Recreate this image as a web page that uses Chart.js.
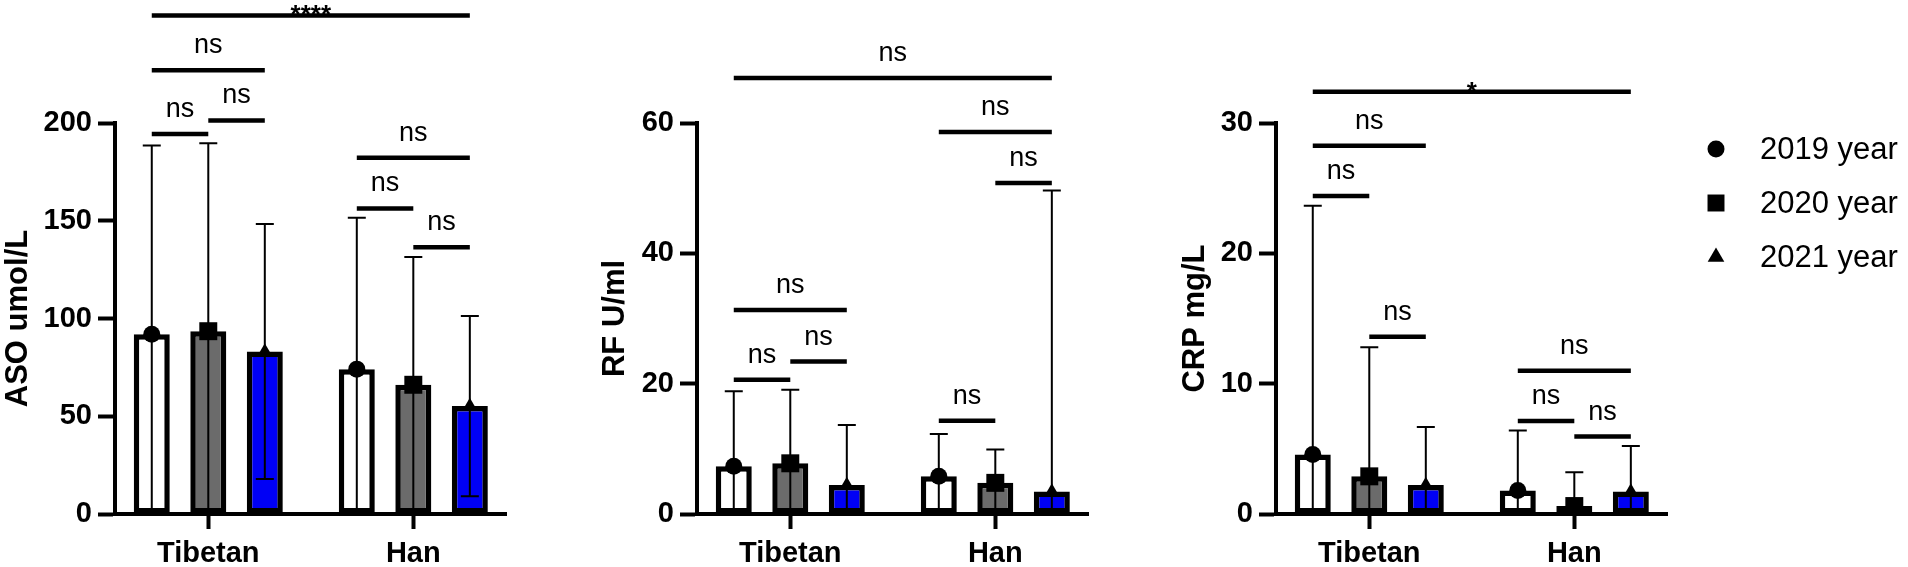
<!DOCTYPE html>
<html>
<head>
<meta charset="utf-8">
<script src="https://cdn.jsdelivr.net/npm/chart.js@4.4.1/dist/chart.umd.min.js"></script>
<style>
  html, body { margin: 0; padding: 0; background: #fff; }
  body { width: 1908px; height: 567px; position: relative; overflow: hidden; }
  .panel { position: absolute; top: 0; height: 567px; }
</style>
</head>
<body>
<div class="panel" style="left:0;width:560px"><canvas id="asoChart"></canvas></div>
<div class="panel" style="left:560px;width:580px"><canvas id="rfChart"></canvas></div>
<div class="panel" style="left:1140px;width:768px"><canvas id="crpChart"></canvas></div>

<script>
const groups = ['Tibetan', 'Han'];
const years = ['2019 year', '2020 year', '2021 year'];
const yearShapes = ['circle', 'rect', 'triangle'];
const barFills = ['#ffffff', '#6b6b6b', '#0000f5'];

// rows = 2019, 2020, 2021 ; columns = Tibetan, Han
const asoMeans = [[92.0, 74.1], [93.5, 66.1], [83.1, 55.2]];
const asoSDs   = [[96.5, 77.4], [96.1, 65.4], [65.2, 46.1]];
const rfMeans  = [[7.33, 5.78], [7.78, 4.78], [4.44, 3.44]];
const rfSDs    = [[11.5, 6.5], [11.3, 5.1], [9.2, 46.2]];
const crpMeans = [[4.56, 1.81], [2.89, 0.61], [2.22, 1.72]];
const crpSDs   = [[19.1, 4.6], [9.9, 2.6], [4.45, 3.5]];

// significance lines: [from bar, to bar, height, label]; bar = group * 3 + year
const asoBrackets = [[0, 5, 255, '****'], [0, 2, 227, 'ns'], [0, 1, 194.4, 'ns'], [1, 2, 201.3, 'ns'],
                     [3, 5, 182.2, 'ns'], [3, 4, 156.3, 'ns'], [4, 5, 136.5, 'ns']];
const rfBrackets  = [[0, 5, 66.9, 'ns'], [0, 2, 31.3, 'ns'], [0, 1, 20.6, 'ns'], [1, 2, 23.4, 'ns'],
                     [3, 5, 58.6, 'ns'], [4, 5, 50.8, 'ns'], [3, 4, 14.3, 'ns']];
const crpBrackets = [[0, 5, 32.4, '*'], [0, 2, 28.25, 'ns'], [0, 1, 24.4, 'ns'], [1, 2, 13.6, 'ns'],
                     [3, 5, 11.0, 'ns'], [3, 4, 7.14, 'ns'], [4, 5, 5.94, 'ns']];

const FONT = '"Liberation Sans", Arial, sans-serif';
Chart.defaults.font.family = FONT;
Chart.defaults.color = '#000';

const markerRadius = [8.5, 12.7, 8.4];

// error bars (mean +/- SD, cut at 0), year markers and significance lines
function marksPlugin(brackets) {
    return {
        id: 'marks',
        afterDatasetsDraw(chart) {
            const ctx = chart.ctx, y = chart.scales.y;
            const bars = [];
            ctx.save();
            ctx.strokeStyle = '#000';
            ctx.fillStyle = '#000';
            chart.data.datasets.forEach((ds, i) => {
                chart.getDatasetMeta(i).data.forEach((bar, j) => {
                    bars[j * 3 + i] = bar;
                    const m = ds.data[j].y, sd = ds.sd[j];
                    const hi = y.getPixelForValue(m + sd);
                    const lo = y.getPixelForValue(Math.max(0, m - sd));
                    ctx.lineWidth = 2;
                    ctx.beginPath();
                    ctx.moveTo(bar.x, lo);
                    ctx.lineTo(bar.x, hi);
                    ctx.moveTo(bar.x - 9, hi);
                    ctx.lineTo(bar.x + 9, hi);
                    if (m - sd > 0) {
                        ctx.moveTo(bar.x - 9, lo);
                        ctx.lineTo(bar.x + 9, lo);
                    }
                    ctx.stroke();
                    Chart.helpers.drawPoint(ctx, {
                        pointStyle: ds.shape, radius: markerRadius[i], rotation: 0, borderWidth: 0
                    }, bar.x, bar.y);
                });
            });

            ctx.lineWidth = 4.5;
            ctx.textAlign = 'center';
            ctx.textBaseline = 'alphabetic';
            brackets.forEach(([a, b, v, label]) => {
                const py = y.getPixelForValue(v);
                const x0 = bars[a].x, x1 = bars[b].x;
                ctx.beginPath();
                ctx.moveTo(x0, py);
                ctx.lineTo(x1, py);
                ctx.stroke();
                const stars = label[0] === '*';
                ctx.font = stars ? 'bold 26px ' + FONT : '27px ' + FONT;
                ctx.fillText(label, (x0 + x1) / 2, stars ? py + 8 : py - 17);
            });
            ctx.restore();
        }
    };
}

// legend at the right of the last panel
const yearLegend = {
    id: 'yearLegend',
    afterDraw(chart) {
        const ctx = chart.ctx;
        const legendRadius = [8.5, 12, 9.6];
        ctx.save();
        ctx.fillStyle = '#000';
        ctx.font = '31px ' + FONT;
        ctx.textAlign = 'left';
        ctx.textBaseline = 'middle';
        years.forEach((label, i) => {
            const cy = 149 + i * 54;
            Chart.helpers.drawPoint(ctx, {
                pointStyle: yearShapes[i], radius: legendRadius[i], rotation: 0, borderWidth: 0
            }, 576, cy);
            ctx.fillText(label, 620, cy + 1);
        });
        ctx.restore();
    }
};

function createChart(id, title, means, sds, yMax, step, brackets, pad, axisWidth, extra) {
    const datasets = years.map((label, i) => ({
        label: label,
        data: groups.map((g, j) => ({ x: j, y: means[i][j] })),
        sd: sds[i],
        shape: yearShapes[i],
        backgroundColor: barFills[i],
        borderColor: '#000',
        borderWidth: 5.5,
        borderSkipped: false,
        categoryPercentage: 0.827,
        barPercentage: 0.637
    }));
    return new Chart(document.getElementById(id), {
        type: 'bar',
        data: { datasets: datasets },
        options: {
            responsive: true,
            maintainAspectRatio: false,
            animation: false,
            events: [],
            layout: { padding: { top: 123, left: pad.left, right: pad.right, bottom: 0 } },
            plugins: { legend: { display: false }, tooltip: { enabled: false } },
            scales: {
                x: {
                    type: 'linear',
                    min: -0.455,
                    max: 1.455,
                    offset: false,
                    afterBuildTicks: s => { s.ticks = groups.map((g, j) => ({ value: j })); },
                    afterFit: s => { s.height = 53; },
                    ticks: {
                        callback: v => groups[v],
                        font: { size: 29, weight: 'bold' },
                        color: '#000',
                        padding: 8,
                        maxRotation: 0,
                        autoSkip: false
                    },
                    grid: { drawOnChartArea: false, offset: false, tickLength: 15, tickWidth: 4, tickColor: '#000' },
                    border: { width: 4, color: '#000' }
                },
                y: {
                    min: 0,
                    max: yMax,
                    afterFit: s => { s.width = axisWidth; },
                    ticks: { stepSize: step, font: { size: 29, weight: 'bold' }, color: '#000', padding: 6 },
                    title: {
                        display: true,
                        text: title,
                        font: { size: 31, weight: 'bold', lineHeight: 1 },
                        color: '#000',
                        padding: { top: 0, bottom: 0 }
                    },
                    grid: { drawOnChartArea: false, tickLength: 17, tickWidth: 4, tickColor: '#000' },
                    border: { width: 4, color: '#000' }
                }
            }
        },
        plugins: [marksPlugin(brackets)].concat(extra || [])
    });
}

createChart('asoChart', 'ASO umol/L', asoMeans, asoSDs, 200, 50, asoBrackets,
    { left: 2.5, right: 53.4 }, 112.5);
createChart('rfChart', 'RF U/ml', rfMeans, rfSDs, 60, 20, rfBrackets,
    { left: 39.5, right: 51.4 }, 97.5);
createChart('crpChart', 'CRP mg/L', crpMeans, crpSDs, 30, 10, crpBrackets,
    { left: 39.5, right: 240.4 }, 96.5, [yearLegend]);
</script>
</body>
</html>
